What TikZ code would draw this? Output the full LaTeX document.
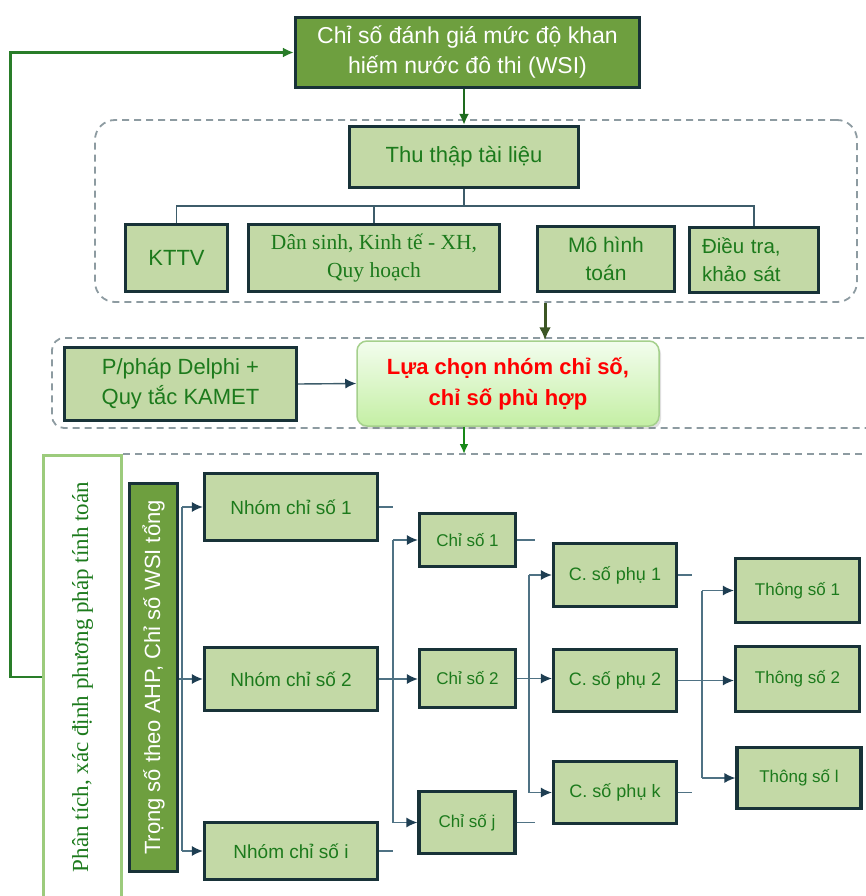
\documentclass[tikz,border=0pt]{standalone}
\usepackage{fontspec}
\setmainfont{Liberation Serif}
\setsansfont{Liberation Sans}
\usetikzlibrary{arrows.meta,shadows}

\definecolor{boxfill}{HTML}{C3D9A6}
\definecolor{boxline}{HTML}{183238}
\definecolor{txtgreen}{HTML}{1C7A1C}
\definecolor{darkfill}{HTML}{6E9F3F}
\definecolor{connline}{HTML}{4F7284}
\definecolor{tipcol}{HTML}{1E3E52}
\definecolor{treeline}{HTML}{3D5C6A}
\definecolor{dashgray}{HTML}{8D9BA1}
\definecolor{fbgreen}{HTML}{2E8B2E}
\definecolor{downgreen}{HTML}{1E6B1E}
\definecolor{olivearrow}{HTML}{3C5624}
\definecolor{paleborder}{HTML}{9CCB7C}
\definecolor{selborder}{HTML}{A5D08C}
\definecolor{seltop}{HTML}{F3FDEE}
\definecolor{selbottom}{HTML}{C4EFA4}

\newcommand\fsz[2]{\fontsize{#1}{#2}\selectfont}

\begin{document}
\begin{tikzpicture}[x=1pt,y=-1pt,
  box/.style={draw=boxline, line width=3.2pt, fill=boxfill, text=txtgreen,
    inner sep=0pt, align=center, font=\sffamily},
  darkbox/.style={box, fill=darkfill, text=white},
  dashbox/.style={draw=dashgray, line width=1.8pt, dash pattern=on 7pt off 5pt},
  treeln/.style={draw=treeline, line width=1.2pt},
  ln/.style={draw=connline, line width=1.4pt},
  arr/.style={ln, -{Latex[length=11pt,width=10pt,color=tipcol]}},
]
\useasboundingbox (0,0) rectangle (866,896);
\clip (0,0) rectangle (866,896);

% ---------- top: index and data collection ----------
\node[darkbox, minimum width=344pt, minimum height=70pt,
      font=\sffamily\fsz{23}{30}] (wsi) at (467.5,52.5)
      {Chỉ số đánh giá mức độ khan\\hiếm nước đô thi (WSI)};

\node[dashbox, rounded corners=20pt, minimum width=762pt, minimum height=182pt,
      inner sep=0pt] (grp1) at (476,211) {};

\node[box, minimum width=229pt, minimum height=61pt,
      font=\sffamily\fsz{22}{28}] (thu) at (464,157) {Thu thập tài liệu};

\node[box, minimum width=102pt, minimum height=67pt,
      font=\sffamily\fsz{22}{28}] (kttv) at (176.5,258) {KTTV};
\node[box, minimum width=251pt, minimum height=67pt,
      font=\rmfamily\fsz{21.5}{28}] (dan) at (374,258)
      {Dân sinh, Kinh tế - XH,\\Quy hoạch};
\node[box, minimum width=137pt, minimum height=65pt,
      font=\sffamily\fsz{21}{28}] (mo) at (606,259) {Mô hình\\toán};
\node[box, minimum width=129pt, minimum height=65pt, align=left, text width=104pt,
      font=\sffamily\fsz{20.5}{28}] (dieu) at (754,260) {Điều tra,\\khảo sát};

\coordinate (treey) at (0,206);
\draw[treeln] (thu.south) -- (thu.south |- treey);
\draw[treeln] (kttv.north) |- (dieu.north |- treey) -- (dieu.north);
\draw[treeln] (dan.north) -- (dan.north |- treey);

\draw[downgreen, line width=2.5pt, -{Latex[length=11pt,width=10pt]}]
  (thu.north |- wsi.south) -- (thu.north);

% ---------- selection of indicators ----------
\draw[dashbox, rounded corners=12pt] (900,338) -- (52,338) -- (52,428) -- (900,428);

\node[box, minimum width=232pt, minimum height=73pt,
      font=\sffamily\fsz{22}{30}] (del) at (180.5,384)
      {P/pháp Delphi +\\Quy tắc KAMET};

\node[draw=selborder, line width=1.5pt, rounded corners=10pt,
      top color=seltop, bottom color=selbottom,
      drop shadow={shadow xshift=2pt, shadow yshift=-3pt, opacity=0.25},
      minimum width=302pt, minimum height=85pt, inner sep=0pt, align=center,
      text=red, font=\sffamily\bfseries\fsz{22}{31}] (sel) at (508,383.5)
      {Lựa chọn nhóm chỉ số,\\chỉ số phù hợp};

\draw[draw=treeline, line width=1.4pt, -{Latex[length=11pt,width=10pt,color=tipcol]}]
  (del.east) -- (sel.west);

\coordinate (moarr) at (545,0);
\draw[olivearrow, line width=3pt, -{Latex[length=13pt,width=12pt]}]
  (grp1.south -| moarr) -- (sel.north -| moarr);

% ---------- analysis and weighting ----------
\node[draw=paleborder, line width=3pt, fill=white, rotate=90,
      minimum width=443pt, minimum height=78pt, inner sep=0pt,
      text=txtgreen, font=\rmfamily\fsz{23}{26}] (pt) at (82.5,677)
      {Phân tích, xác định phương pháp tính toán};

\draw[dashbox] (pt.south east) -- (900,454);

\draw[fbgreen!90!black, line width=2.2pt, -{Latex[length=11pt,width=10pt]}]
  (pt.north) -| (10.5,52.5) -- (wsi.west);
\draw[downgreen!80!green, line width=2pt, -{Latex[length=10pt,width=9pt]}]
  (sel.south -| thu.north) -- (thu.north |- pt.south east);

\node[darkbox, rotate=90, minimum width=388pt, minimum height=48pt,
      font=\sffamily\fsz{22}{26}] (tr) at (153.5,677.5)
      {Trọng số theo AHP, Chỉ số WSI tổng};

% ---------- hierarchy ----------
\tikzset{grpbox/.style={box, minimum width=173pt, font=\sffamily\fsz{19}{24}},
         idxbox/.style={box, minimum width=96pt, font=\sffamily\fsz{17}{22}},
         subbox/.style={box, minimum width=123pt, font=\sffamily\fsz{18}{22}},
         parbox/.style={box, minimum width=124pt, font=\sffamily\fsz{17}{22}}}

\node[grpbox, minimum height=67pt] (n1) at (291,507) {Nhóm chỉ số 1};
\node[grpbox, minimum height=63pt] (n2) at (291,679) {Nhóm chỉ số 2};
\node[grpbox, minimum height=57pt] (ni) at (291,851) {Nhóm chỉ số i};

\node[idxbox, minimum height=53pt] (c1) at (467.5,540) {Chỉ số 1};
\node[idxbox, minimum height=58pt] (c2) at (467.5,678.5) {Chỉ số 2};
\node[idxbox, minimum height=62pt] (cj) at (467,822.5) {Chỉ số j};

\node[subbox, minimum height=63pt] (p1) at (615,575) {C. số phụ 1};
\node[subbox, minimum height=62pt] (p2) at (615,680.5) {C. số phụ 2};
\node[subbox, minimum height=62pt] (pk) at (615,792.5) {C. số phụ k};

\node[parbox, minimum height=64pt] (t1) at (797.5,590.5) {Thông số 1};
\node[parbox, minimum height=65pt] (t2) at (797.5,679) {Thông số 2};
\node[parbox, minimum height=61pt] (tl) at (799,778) {Thông số l};

\coordinate (b1) at (182,0);
\coordinate (b2) at (393,0);
\coordinate (b3) at (529,0);
\coordinate (s3) at (535,0);
\coordinate (b4) at (702,0);
\coordinate (s4) at (692,0);

% weights to groups
\draw[ln] (b1 |- n1.west) -- (b1 |- ni.west);
\draw[arr] (b1 |- n1.west) -- (n1.west);
\draw[arr] (tr.south |- n2.west) -- (n2.west);
\draw[arr] (b1 |- ni.west) -- (ni.west);

% groups to indices
\draw[ln] (n1.east) -- (b2 |- n1.east);
\draw[ln] (ni.east) -- (b2 |- ni.east);
\draw[ln] (b2 |- c1.west) -- (b2 |- cj.west);
\draw[arr] (b2 |- c1.west) -- (c1.west);
\draw[arr] (n2.east) -- (c2.west |- n2.east);
\draw[arr] (b2 |- cj.west) -- (cj.west);

% indices to sub-indices
\draw[ln] (c1.east) -- (s3 |- c1.east);
\draw[ln] (cj.east) -- (s3 |- cj.east);
\draw[ln] (b3 |- p1.west) -- (b3 |- pk.west);
\draw[arr] (b3 |- p1.west) -- (p1.west);
\draw[arr] (c2.east) -- (p2.west |- c2.east);
\draw[arr] (b3 |- pk.west) -- (pk.west);

% sub-indices to parameters
\draw[ln] (p1.east) -- (s4 |- p1.east);
\draw[ln] (pk.east) -- (s4 |- pk.east);
\draw[ln] (b4 |- t1.west) -- (b4 |- tl.west);
\draw[arr] (b4 |- t1.west) -- (t1.west);
\draw[arr] (p2.east) -- (t2.west |- p2.east);
\draw[arr] (b4 |- tl.west) -- (tl.west);
\end{tikzpicture}
\end{document}
